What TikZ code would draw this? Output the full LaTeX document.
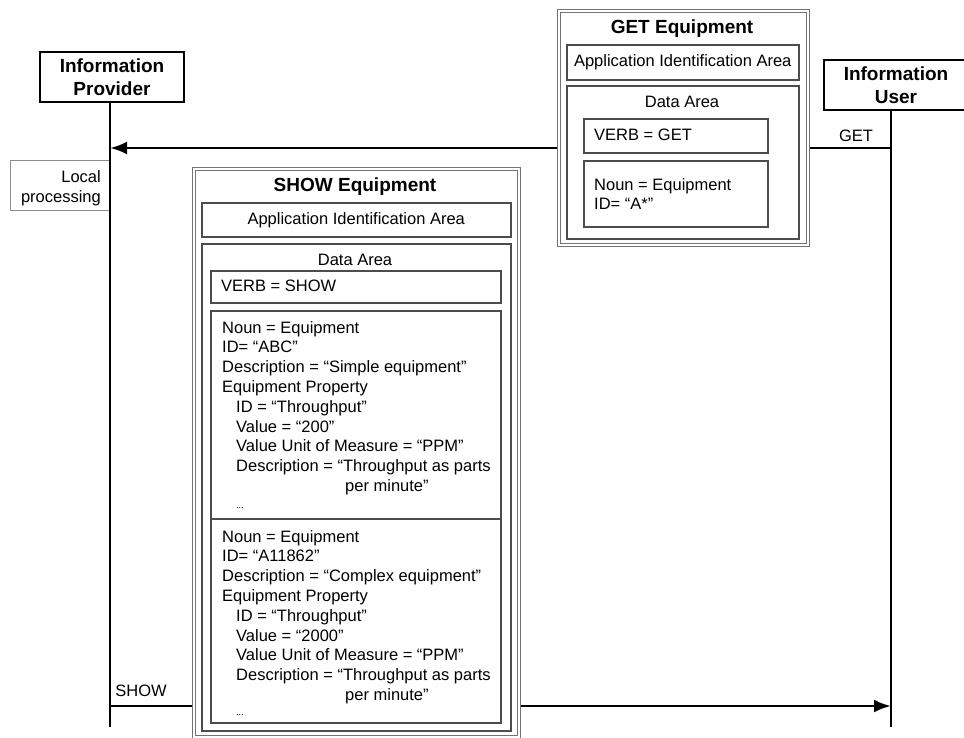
\documentclass[tikz,border=0pt]{standalone}
\usepackage{fontspec}
\setmainfont{Liberation Sans}
\usetikzlibrary{arrows.meta}

\begin{document}
\begin{tikzpicture}[x=1pt,y=-1pt]
    \tikzstyle{actor}=[draw=black,line width=2.5pt,fill=white,inner sep=0pt,align=center,font=\fontsize{19}{23}\selectfont\bfseries]
    \tikzstyle{life}=[draw=black,line width=2.8pt]
    \tikzstyle{msg}=[draw=black,line width=2.8pt,-{Latex[length=17pt,width=13pt]}]
    \tikzstyle{frame}=[draw=black!55,double=white,double distance=2pt,line width=1pt,fill=white,anchor=north west,inner sep=0pt]
    \tikzstyle{area}=[draw=black!70,line width=1.5pt,fill=white,anchor=north west,inner sep=0pt,font=\fontsize{16.5}{19.8}\selectfont]
    \tikzstyle{txt}=[inner sep=0pt,align=left,font=\fontsize{16.5}{19.8}\selectfont]
    \tikzstyle{title}=[inner sep=0pt,font=\fontsize{19}{23}\selectfont\bfseries]

    \def\ind{\hspace*{14pt}}
    \def\cont{\hspace*{123pt}}

    \useasboundingbox (0,0) rectangle (964,737);

    % actors and lifelines
    \node[actor,minimum width=144pt,minimum height=50pt] (prov) at (112,77) {Information\\Provider};
    \node[actor,minimum width=144pt,minimum height=50pt] (user) at (896,85) {Information\\User};

    \node[draw=black!45,line width=0.8pt,fill=white,minimum width=100pt,minimum height=50pt] (local) at (60,185) {};
    \node[txt,align=right,anchor=east] (localtxt) at (101,188) {Local\\processing};

    \coordinate (provend) at (110,727);
    \coordinate (userend) at (891,727);
    \path[life] (prov.south -| provend) -- (provend);
    \path[life] (user.south -| userend) -- (userend);

    % messages
    \coordinate (getsrc) at (891,148);
    \coordinate (getdst) at (110,148);
    \coordinate (showsrc) at (110,706);
    \coordinate (showdst) at (891,706);
    \path[msg] (getsrc) -- (getdst);
    \path[msg] (showsrc) -- (showdst);
    \node[txt,anchor=base] (getlbl) at (856,141) {GET};
    \node[txt,anchor=base] (showlbl) at (141,696) {SHOW};

    % GET Equipment
    \node[frame,minimum width=249pt,minimum height=234pt] (getbox) at (558,10) {};
    \node[title] (gettitle) at (682,29) {GET Equipment};
    \node[area,minimum width=232pt,minimum height=35pt] (getappid) at (566,44) {Application Identification Area};
    \node[area,minimum width=232pt,minimum height=153pt] (getdata) at (566,85) {};
    \node[txt] (getdatalbl) at (682,102) {Data Area};
    \node[area,minimum width=184pt,minimum height=34pt] (getverb) at (583,118) {};
    \node[txt,anchor=west] at (594,135) {VERB = GET};
    \node[area,minimum width=184pt,minimum height=66pt] (getnoun) at (583,160) {};
    \node[txt,anchor=west] at (594,194) {Noun = Equipment\\ID= “A*”};

    % SHOW Equipment
    \node[frame,minimum width=325pt,minimum height=568pt] (showbox) at (193,168) {};
    \node[title] (showtitle) at (355,187) {SHOW Equipment};
    \node[area,minimum width=309pt,minimum height=34pt] (showappid) at (201,202) {Application Identification Area};
    \node[area,minimum width=309pt,minimum height=487pt] (showdata) at (201,243) {};
    \node[txt] (showdatalbl) at (355,260) {Data Area};
    \node[area,minimum width=290pt,minimum height=32pt] (showverb) at (210,270) {};
    \node[txt,anchor=west] at (221,286) {VERB = SHOW};
    \node[area,minimum width=290pt,minimum height=208pt] (noun1) at (210,310) {};
    \node[area,minimum width=290pt,minimum height=204pt] (noun2) at (210,518) {};

    \node[txt,anchor=north west] (noun1txt) at (222,321) {Noun = Equipment\\ID= “ABC”\\Description = “Simple equipment”\\Equipment Property\\
        \ind ID = “Throughput”\\\ind Value = “200”\\\ind Value Unit of Measure = “PPM”\\
        \ind Description = “Throughput as parts\\\cont per minute”\\[-3pt]\ind\small ...};
    \node[txt,anchor=north west] (noun2txt) at (222,530) {Noun = Equipment\\ID= “A11862”\\Description = “Complex equipment”\\Equipment Property\\
        \ind ID = “Throughput”\\\ind Value = “2000”\\\ind Value Unit of Measure = “PPM”\\
        \ind Description = “Throughput as parts\\\cont per minute”\\[-5pt]\ind\small ...};
\end{tikzpicture}
\end{document}
